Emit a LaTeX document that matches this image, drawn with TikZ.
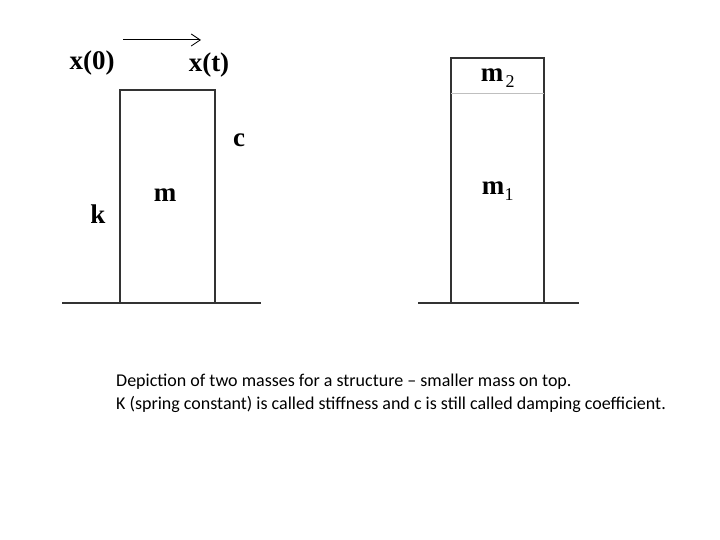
\documentclass[tikz,border=0pt]{standalone}
\usepackage{fontspec}
\setmainfont{Liberation Serif}
\newfontfamily\capfont[Ligatures=TeX]{Carlito}
\usetikzlibrary{arrows.meta}
\tikzset{
  lbl/.style={font=\fontsize{27}{30}\selectfont\bfseries, inner sep=0pt},
  sub/.style={font=\fontsize{18}{22}\selectfont, inner sep=0pt},
  edge/.style={line width=1.2pt, draw=black!80},
  capt/.style={font=\capfont\fontsize{18}{22}\selectfont, inner sep=0pt, anchor=base west, align=left}
}
\begin{document}
\begin{tikzpicture}[x=1pt,y=-1pt]
\useasboundingbox (0,0) rectangle (720,540);
% arrow
\coordinate (a0) at (123,40);
\coordinate (a1) at (201,40);
\draw[line width=1pt, -{Straight Barb[length=9pt,width=12pt,line width=0.9pt]}] (a0) -- (a1);
\node[lbl] (x0) at (92,63) {x(0)};
\node[lbl] (xt) at (209,65) {x(t)};
% left structure
\draw[edge] (120,303) -- (120,90) -- (215,90) -- (215,303);
\draw[edge] (62,303) -- (261,303);
\node[lbl] (c) at (239,140) {c};
\node[lbl] (m) at (165,195) {m};
\node[lbl] (k) at (98,214) {k};
% right structure
\draw[edge] (451,303) -- (451,58) -- (544,58) -- (544,303);
\draw[line width=1pt, draw=black!25] (451,94) -- (544,94);
\draw[edge] (418,303) -- (579,303);
\node[lbl] (m2) at (492,75) {m};
\node[sub] (s2) at (510,82) {2};
\node[lbl] (m1) at (493,188) {m};
\node[sub] (s1) at (509,195) {1};
% caption
\node[capt] (cap1) at (116,386) {Depiction of two masses for a structure – smaller mass on top.};
\node[capt] (cap2) at (116,409) {K (spring constant) is called stiffness and c is still called damping coefficient.};
\end{tikzpicture}
\end{document}
